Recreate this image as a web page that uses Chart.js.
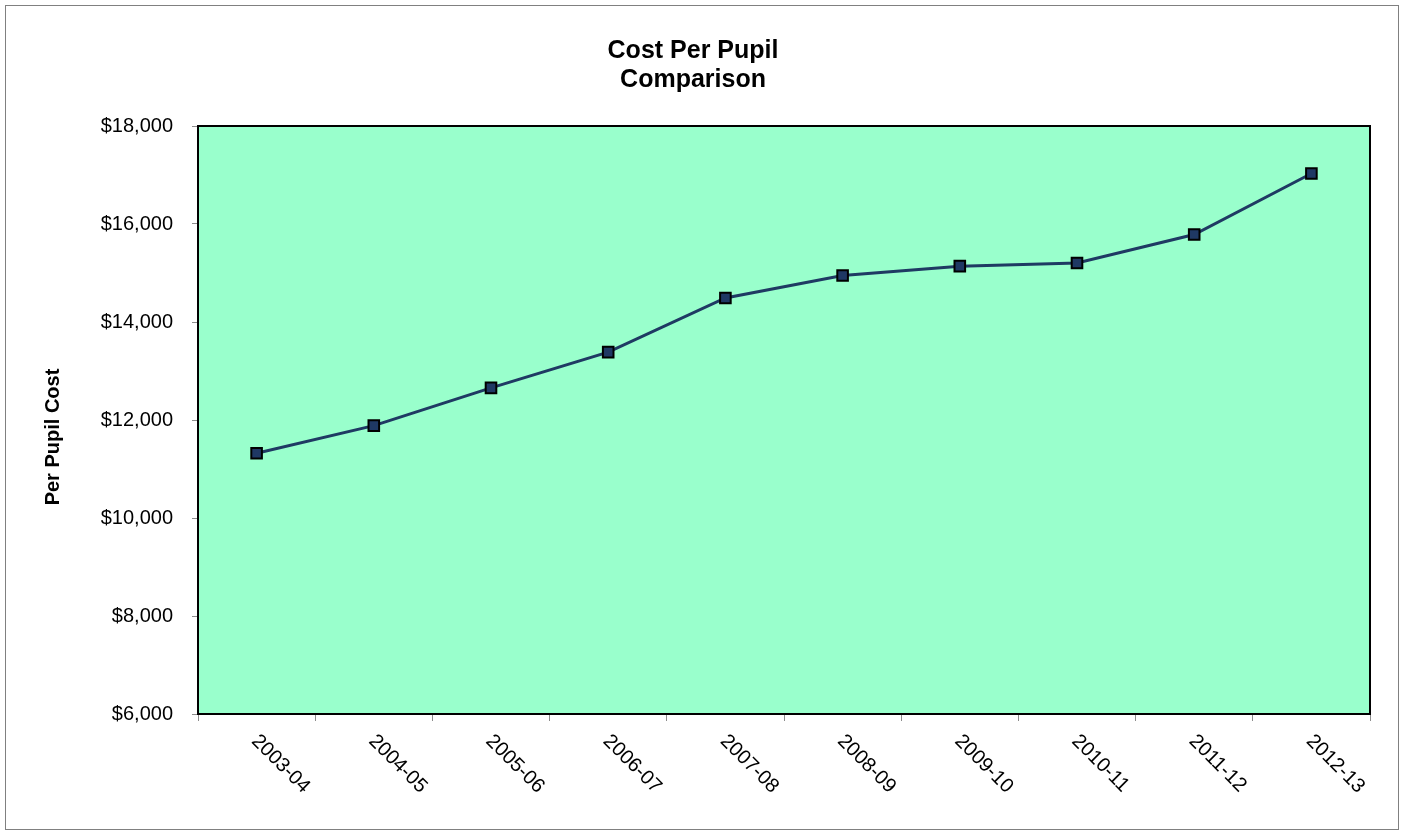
<!DOCTYPE html>
<html lang="en">
<head>
    <meta charset="UTF-8">
    <title>Cost Per Pupil Comparison</title>
    <script src="https://cdn.jsdelivr.net/npm/chart.js"></script>
    <style>
        html, body { margin: 0; padding: 0; background: #ffffff; }
        #wrap { position: relative; width: 1406px; height: 832px; }
    </style>
</head>
<body>
    <div id="wrap"><canvas id="grafico" width="1406" height="832"></canvas></div>

    <script>
        // datos
        const years = ['2003-04', '2004-05', '2005-06', '2006-07', '2007-08',
                       '2008-09', '2009-10', '2010-11', '2011-12', '2012-13'];
        const costPerPupil = [11320, 11885, 12655, 13385, 14490, 14950, 15140, 15205, 15785, 17030];
        const yTicks = [6000, 8000, 10000, 12000, 14000, 16000, 18000];
        const titleLines = ['Cost Per Pupil', 'Comparison'];
        const yTitle = 'Per Pupil Cost';

        const FONT = '"Liberation Sans", Arial, sans-serif';

        const decor = {
            id: 'decor',
            beforeDraw(chart) {
                const { ctx, chartArea: a } = chart;
                ctx.save();
                ctx.fillStyle = '#99ffcc';
                ctx.fillRect(a.left, a.top, a.right - a.left, a.bottom - a.top);
                ctx.restore();
            },
            afterDraw(chart) {
                const { ctx, chartArea: a } = chart;
                const x = chart.scales.x;
                ctx.save();
                // borde del area
                ctx.strokeStyle = '#000000';
                ctx.lineWidth = 2;
                ctx.strokeRect(a.left, a.top, a.right - a.left, a.bottom - a.top);
                // marco exterior
                ctx.strokeStyle = '#808080';
                ctx.lineWidth = 1;
                ctx.strokeRect(5.5, 5.5, 1393, 824);
                // titulo
                ctx.fillStyle = '#000000';
                ctx.font = 'bold 25px ' + FONT;
                ctx.textAlign = 'center';
                ctx.textBaseline = 'middle';
                ctx.fillText(titleLines[0], 693, 51);
                ctx.fillText(titleLines[1], 693, 80);
                // titulo eje y
                ctx.save();
                ctx.translate(53, 437);
                ctx.rotate(-Math.PI / 2);
                ctx.font = 'bold 20px ' + FONT;
                ctx.fillText(yTitle, 0, 0);
                ctx.restore();
                // etiquetas x, giradas en sentido horario
                ctx.font = '20px ' + FONT;
                ctx.textAlign = 'left';
                years.forEach((lbl, i) => {
                    const px = x.getPixelForValue(i);
                    ctx.save();
                    ctx.translate(px - 2, a.bottom + 24);
                    ctx.rotate(Math.PI / 4);
                    ctx.fillText(lbl, 0, 0);
                    ctx.restore();
                });
                ctx.restore();
            }
        };

        const ctx = document.getElementById('grafico').getContext('2d');
        new Chart(ctx, {
            type: 'line',
            data: {
                labels: years,
                datasets: [{
                    label: 'Cost Per Pupil',
                    data: costPerPupil,
                    borderColor: '#1f3a63',
                    borderWidth: 3,
                    tension: 0,
                    pointStyle: 'rect',
                    pointRadius: 7.5,
                    pointBackgroundColor: '#1f3864',
                    pointBorderColor: '#000000',
                    pointBorderWidth: 2,
                    fill: false
                }]
            },
            options: {
                responsive: false,
                animation: false,
                layout: { padding: { left: 0, right: 36, top: 126, bottom: 0 } },
                plugins: {
                    legend: { display: false },
                    title: { display: false },
                    tooltip: { enabled: false }
                },
                scales: {
                    x: {
                        offset: true,
                        grid: { offset: true, drawOnChartArea: false, color: '#8c8c8c', tickLength: 7, lineWidth: 1 },
                        border: { display: false },
                        ticks: { display: false },
                        afterFit(s) { s.height = 118; }
                    },
                    y: {
                        min: 6000,
                        max: 18000,
                        afterBuildTicks(s) { s.ticks = yTicks.map(v => ({ value: v })); },
                        grid: { drawOnChartArea: false, color: '#8c8c8c', tickLength: 6, lineWidth: 1 },
                        border: { display: false },
                        ticks: {
                            color: '#000000',
                            padding: 19,
                            font: { family: FONT, size: 20 },
                            callback: v => '$' + v.toLocaleString('en-US')
                        },
                        afterFit(s) { s.width = 198; }
                    }
                }
            },
            plugins: [decor]
        });
    </script>
</body>
</html>
